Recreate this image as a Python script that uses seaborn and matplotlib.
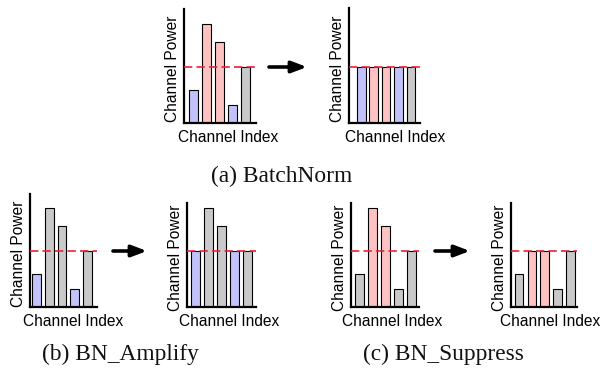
import matplotlib
matplotlib.use("Agg")
import matplotlib.pyplot as plt
import pandas as pd
import seaborn as sns

# ---- data ----
channels = ["c1", "c2", "c3", "c4", "c5"]
power_before = [33, 99, 81, 18, 56]
power_batchnorm = [56, 56, 56, 56, 56]
power_amplify = [56, 99, 81, 56, 56]
power_suppress = [33, 56, 56, 18, 56]
mean_level = 56

groups_bn = ["low", "high", "high", "low", "mid"]
groups_amplify = ["low", "mid", "mid", "low", "mid"]
groups_suppress = ["mid", "high", "high", "mid", "mid"]

captions = ["(a) BatchNorm", "(b) BN_Amplify", "(c) BN_Suppress"]
xlabel_text = "Channel Index"
ylabel_text = "Channel Power"

palette = {"low": "#c2c2fa", "high": "#ffc2c2", "mid": "#c9c9c9"}

# ---- figure ----
sns.set_theme(style="white")
plt.rcParams["font.family"] = ["Liberation Sans", "DejaVu Sans"]

W, H = 603, 371
fig = plt.figure(figsize=(W / 100, H / 100), dpi=100)

# panel boxes in pixels: (x_left, y_top, x_right, y_bottom), xlim, xlabel shift
panels = [
    (power_before, groups_bn, (184, 9, 256, 123), (-0.73, 4.81), 8),
    (power_batchnorm, groups_bn, (349, 8, 420, 123), (-0.99, 4.73), 11),
    (power_before, groups_amplify, (30, 194, 97, 307), (-0.51, 4.75), 10),
    (power_amplify, groups_amplify, (187, 203, 256, 307), (-0.65, 4.65), 8),
    (power_before, groups_suppress, (351, 203, 419, 307), (-0.65, 4.58), 7),
    (power_suppress, groups_suppress, (511, 203, 577, 307), (-0.62, 4.50), 6),
]

for values, groups, (x0, y0, x1, y1), xlim, shift in panels:
    wpx, hpx = x1 - x0, y1 - y0
    ax = fig.add_axes([x0 / W, 1 - y1 / H, wpx / W, hpx / H])
    df = pd.DataFrame({"channel": channels, "power": values, "group": groups})
    sns.barplot(data=df, x="channel", y="power", hue="group", order=channels,
                palette=palette, dodge=False, legend=False, width=0.68,
                edgecolor="black", linewidth=0.8, saturation=1, ax=ax)
    ax.axhline(mean_level, color="#e8203c", lw=1.2, ls=(0, (5, 2.5)), zorder=5)
    ax.set_xlim(*xlim)
    ax.set_ylim(0, hpx)
    ax.set_xticks([])
    ax.set_yticks([])
    for s in ["top", "right"]:
        ax.spines[s].set_visible(False)
    for s in ["left", "bottom"]:
        ax.spines[s].set_linewidth(1.6)
        ax.spines[s].set_color("black")
    ax.set_facecolor("none")
    ax.set_xlabel(xlabel_text, fontsize=11.2, color="black")
    ax.set_ylabel(ylabel_text, fontsize=11.2, color="black")
    ax.xaxis.set_label_coords(0.5 + shift / wpx, -7 / hpx)
    ax.yaxis.set_label_coords(-4 / wpx, 0.5 - 3 / hpx)

# overlay for arrows and captions (pixel coordinates)
ov = fig.add_axes([0, 0, 1, 1], zorder=-1)
ov.set_xlim(0, W)
ov.set_ylim(H, 0)
ov.axis("off")

arrows = [((269, 67), (307, 67)), ((113, 251), (147, 251)), ((435, 251), (470, 251))]
for (sx, sy), (ex, ey) in arrows:
    ov.annotate("", xy=(ex, ey), xytext=(sx, sy),
                arrowprops=dict(arrowstyle="-|>,head_length=0.45,head_width=0.17",
                                lw=2.6, color="black", mutation_scale=20,
                                shrinkA=0, shrinkB=0))

cap_pos = [(282, 176), (120, 354), (443, 354)]
for (cx, cy), txt in zip(cap_pos, captions):
    ov.text(cx, cy, txt, ha="center", va="center", fontsize=16.8,
            family=["Liberation Serif", "DejaVu Serif"], color="#111111")

fig.savefig("out.png", dpi=100)
